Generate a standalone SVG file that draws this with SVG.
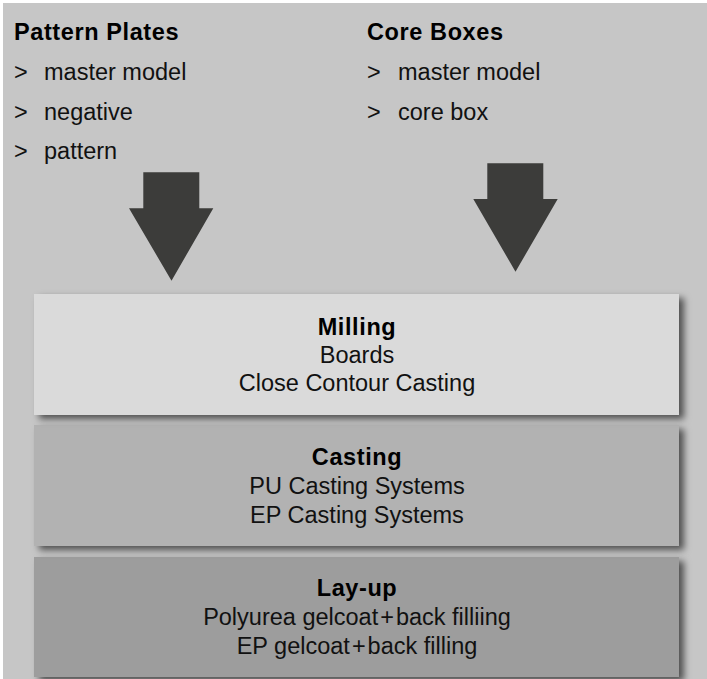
<svg xmlns="http://www.w3.org/2000/svg" width="707" height="679" viewBox="0 0 707 679">
<style>
.t{font-family:"Liberation Sans",Arial,sans-serif;font-size:23.5px;fill:#111}
.b{font-family:"Liberation Sans",Arial,sans-serif;font-size:23.5px;font-weight:bold;fill:#000;letter-spacing:0.6px}
.c{text-anchor:middle}
.arrow{fill:#3c3c3a}
</style>
<defs>
<filter id="sh" x="-10%" y="-20%" width="125%" height="150%">
<feDropShadow dx="5" dy="4" stdDeviation="3.5" flood-color="#000" flood-opacity="0.6"/>
</filter>
</defs>
<rect x="0" y="0" width="707" height="679" fill="#ffffff"/>
<rect x="3" y="3" width="704" height="676" fill="#c6c6c6"/>
<g id="pattern-plates">
<text class="b" x="14" y="40">Pattern Plates</text>
<text class="t" x="14" y="80">&gt;</text><text class="t" x="44" y="80">master model</text>
<text class="t" x="14" y="120">&gt;</text><text class="t" x="44" y="120">negative</text>
<text class="t" x="14" y="159">&gt;</text><text class="t" x="44" y="159">pattern</text>
</g>
<g id="core-boxes">
<text class="b" x="367" y="40">Core Boxes</text>
<text class="t" x="367" y="80">&gt;</text><text class="t" x="398" y="80">master model</text>
<text class="t" x="367" y="120">&gt;</text><text class="t" x="398" y="120">core box</text>
</g>
<g id="connectors">
<polygon class="arrow" points="143.3,172.3 199.3,172.3 199.3,208.3 213.3,208.3 171.5,280.7 129,208.3 143.3,208.3"/>
<polygon class="arrow" points="487.3,163.3 543.3,163.3 543.3,199 557.7,199 515.5,271.7 473.3,199 487.3,199"/>
</g>
<g id="layup">
<rect x="34" y="557" width="645" height="120" fill="#9d9d9d" filter="url(#sh)"/>
<text class="b c" x="357" y="596">Lay-up</text>
<text class="t c" x="357" y="625">Polyurea gelcoat<tspan dx="2">+</tspan><tspan dx="2">back filliing</tspan></text>
<text class="t c" x="357" y="654">EP gelcoat<tspan dx="2">+</tspan><tspan dx="2">back filling</tspan></text>
</g>
<g id="casting">
<rect x="34" y="425" width="645" height="121" fill="#b2b2b2" filter="url(#sh)"/>
<text class="b c" x="357" y="465">Casting</text>
<text class="t c" x="357" y="494">PU Casting Systems</text>
<text class="t c" x="357" y="523">EP Casting Systems</text>
</g>
<g id="milling">
<rect x="34" y="294" width="645" height="121" fill="#dadada" filter="url(#sh)"/>
<text class="b c" x="357" y="335">Milling</text>
<text class="t c" x="357" y="363">Boards</text>
<text class="t c" x="357" y="391">Close Contour Casting</text>
</g>
</svg>
